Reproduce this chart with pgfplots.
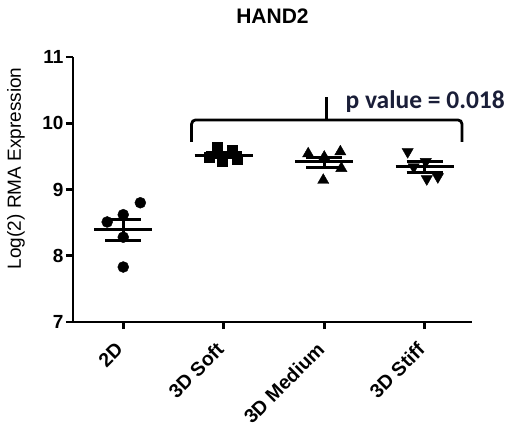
\documentclass[border=0pt]{standalone}
\usepackage{fontspec}
\setmainfont{Liberation Sans}
\newfontfamily\calibri{Carlito}
\usepackage{pgfplots}
\pgfplotsset{compat=1.18}
\definecolor{pnavy}{RGB}{26,30,56}

\begin{document}
\begin{tikzpicture}
\useasboundingbox (0,0) rectangle (526pt,431pt);
\begin{axis}[at={(73pt,109pt)},anchor=south west,scale only axis,width=399pt,height=265pt,
  xmin=-0.5,xmax=3.47,ymin=7,ymax=11,clip=false,
  axis x line=bottom,axis y line=left,axis line style={-,line width=2.6pt},
  xtick={0,1,2,3},xticklabels={2D,3D Soft,3D Medium,3D Stiff},ytick={7,8,9,10,11},
  tick align=outside,major tick length=7pt,tick style={line width=2.6pt,black},
  /pgf/number format/assume math mode=true,
  yticklabel style={font=\bfseries\fontsize{19}{21}\selectfont,xshift=1pt},
  xticklabel style={font=\bfseries\fontsize{19.5}{21}\selectfont,rotate=45,anchor=north east,inner sep=1pt,xshift=-13.6pt,yshift=-1.3pt},
  ylabel={Log(2) RMA Expression},
  ylabel style={font=\fontsize{19}{21}\selectfont,at={(axis description cs:-0.143,0.58)},anchor=center},
  title={HAND2},
  title style={font=\bfseries\fontsize{21}{23}\selectfont,at={(0.5,1)},anchor=base,yshift=27pt},
  ]
% 2D
\addplot[only marks,mark=*,mark size=5.5pt,black] coordinates {(0.17,8.80) (0,8.62) (-0.16,8.51) (0,8.28) (0,7.83)};
% 3D Soft
\addplot[only marks,mark=square*,mark size=5pt,black] coordinates {(0.93,9.64) (1.08,9.60) (0.86,9.49) (0.98,9.42) (1.13,9.45)};
% 3D Medium
\addplot[only marks,mark=triangle*,mark size=6.5pt,black] coordinates {(1.84,9.54) (2.16,9.57) (2.0,9.49) (1.99,9.14) (2.17,9.32)};
% 3D Stiff
\addplot[only marks,mark=triangle*,mark size=6.5pt,black,mark options={rotate=180}] coordinates {(2.83,9.57) (3.01,9.42) (3.02,9.16) (3.13,9.19) (2.89,9.34)};
% mean lines
\addplot[black,line width=3pt,unbounded coords=jump] coordinates {
(-0.29,8.39) (0.29,8.39) (0,nan)
(0.71,9.52) (1.29,9.52) (0,nan)
(1.71,9.42) (2.29,9.42) (0,nan)
(2.71,9.34) (3.29,9.34)};
% SEM bars
\addplot[black,line width=3pt,unbounded coords=jump] coordinates {
(-0.18,8.55) (0.18,8.55) (0,nan) (-0.18,8.23) (0.18,8.23) (0,nan) (0,8.23) (0,8.55) (0,nan)
(0.82,9.56) (1.18,9.56) (0,nan) (0.82,9.48) (1.18,9.48) (0,nan) (1,9.48) (1,9.56) (0,nan)
(1.82,9.49) (2.18,9.49) (0,nan) (1.82,9.33) (2.18,9.33) (0,nan) (2,9.33) (2,9.49) (0,nan)
(2.82,9.42) (3.18,9.42) (0,nan) (2.82,9.26) (3.18,9.26) (0,nan) (3,9.26) (3,9.42)};
% bracket
\draw[line width=2.8pt,rounded corners=4pt] (axis cs:0.68,9.72) -- (axis cs:0.68,10.05) -- (axis cs:3.37,10.05) -- (axis cs:3.37,9.72);
\draw[line width=2.8pt] (axis cs:2.02,10.05) -- (axis cs:2.02,10.40);
\node[anchor=base west,inner sep=0pt,text=pnavy,font=\calibri\bfseries\fontsize{25.5}{28}\selectfont] at (axis cs:2.21,10.22) {p value = 0.018};
\end{axis}
\end{tikzpicture}
\end{document}
